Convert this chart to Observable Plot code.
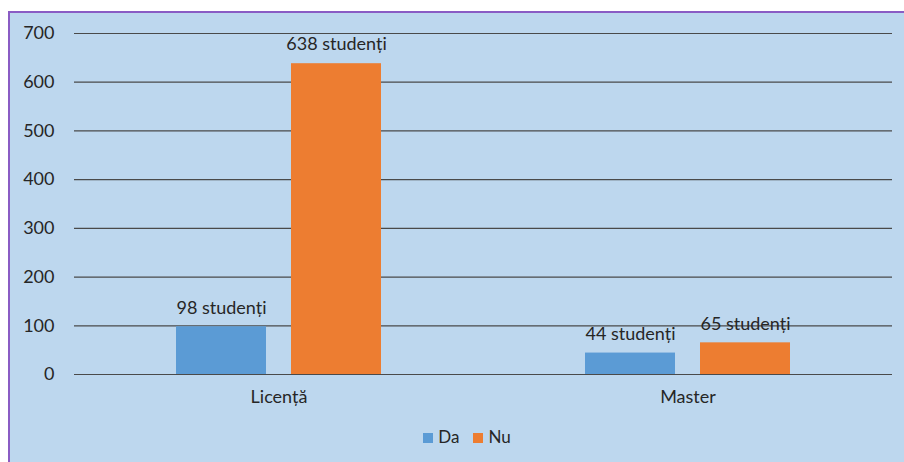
<!DOCTYPE html>
<html>
<head>
<meta charset="utf-8">
<script src="https://cdn.jsdelivr.net/npm/d3@7"></script>
<script src="https://cdn.jsdelivr.net/npm/@observablehq/plot@0.6"></script>
<style>
  html, body { margin: 0; padding: 0; background: #ffffff; overflow: hidden; }
  #frame {
    position: absolute; left: 8px; top: 11px; width: 910px; height: 470px;
    background: #BDD7EE; border: 2px solid #8A5CC4; box-sizing: border-box;
  }
  #chart { position: absolute; left: 0; top: 0; }
  #legend {
    position: absolute; top: 413px; left: 10px; width: 894px; text-align: center;
    font-family: Lato, "Open Sans", sans-serif; font-size: 17px; color: #262626;
  }
  .sw { display: inline-block; width: 10px; height: 10px; margin-right: 5px; }
  .item { display: inline-block; margin: 0 7px; }
</style>
</head>
<body>
<div id="frame">
  <div id="chart"></div>
  <div id="legend"></div>
</div>
<script>
const categories = ["Licență", "Master"];
const series = ["Da", "Nu"];
const daValues = [98, 44];
const nuValues = [638, 65];
const yTicks = [0, 100, 200, 300, 400, 500, 600, 700];
const colors = ["#5B9BD5", "#ED7D31"];

const data = [];
categories.forEach((c, i) => {
  data.push({cat: c, series: "Da", value: daValues[i]});
  data.push({cat: c, series: "Nu", value: nuValues[i]});
});

const font = 'Lato, "Open Sans", sans-serif';

const chart = Plot.plot({
  width: 894,
  height: 401,
  marginLeft: 63,
  marginRight: 12,
  marginTop: 20,
  marginBottom: 40,
  style: {background: "transparent", fontFamily: font, fontSize: "18px", color: "#262626"},
  fx: {domain: categories, paddingInner: 0, paddingOuter: 0, label: null, axis: "bottom", tickSize: 0, tickPadding: 16},
  x: {domain: series, paddingInner: 0.2155, paddingOuter: 0.872, axis: null},
  y: {domain: [0, 700], ticks: yTicks, label: null, tickSize: 0, tickPadding: 20},
  color: {domain: series, range: colors},
  marks: [
    Plot.ruleY(yTicks, {stroke: "#4a4a4a", strokeWidth: 1.2, strokeOpacity: 1}),
    Plot.barY(data, {fx: "cat", x: "series", y: "value", fill: "series"}),
    Plot.text(data, {fx: "cat", x: "series", y: "value", text: d => d.value + " studenți", dy: -19, fontSize: 18, fill: "#262626"})
  ]
});
document.getElementById("chart").appendChild(chart);

const legend = document.getElementById("legend");
series.forEach((s, i) => {
  const it = document.createElement("span");
  it.className = "item";
  it.innerHTML = `<span class="sw" style="background:${colors[i]}"></span>${s}`;
  legend.appendChild(it);
});
</script>
</body>
</html>
